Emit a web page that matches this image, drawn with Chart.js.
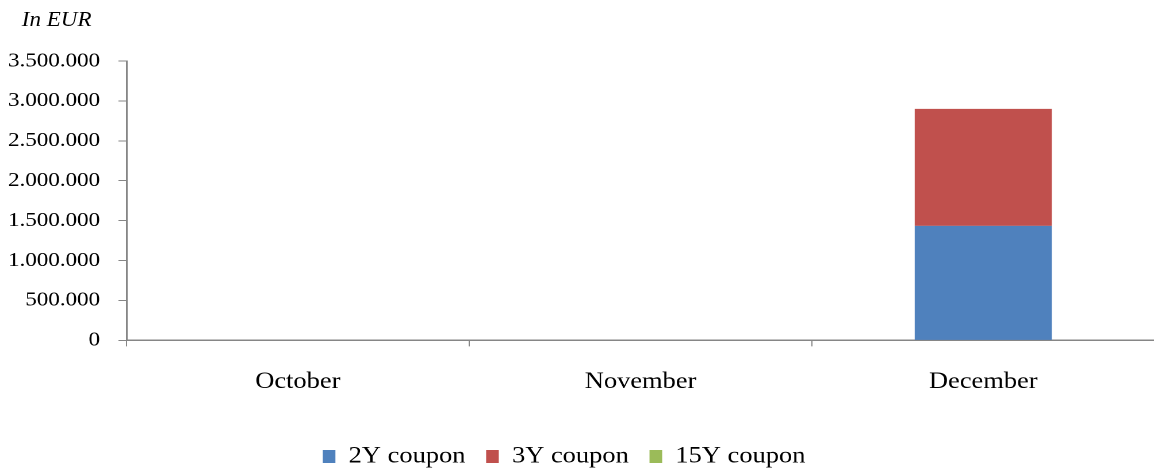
<!DOCTYPE html>
<html lang="en">
  <head>
    <meta charset="UTF-8" />
    <title>Coupon issuance</title>
    <script src="https://cdn.jsdelivr.net/npm/chart.js@4.4.0/dist/chart.umd.min.js"></script>
    <style>
      html, body { margin: 0; padding: 0; background: #fff; overflow: hidden; }
      /* the original picture is a bit wider than tall, so draw narrow and stretch */
      #wrap { position: relative; width: 1004px; height: 469px; transform: scaleX(1.15); transform-origin: 0 0; }
      #unit { position: absolute; left: 19px; top: 9px; font: italic 20px/20px "Liberation Serif", serif; color: #000; }
    </style>
  </head>
  <body>
    <div id="wrap">
      <div id="unit">In EUR</div>
      <canvas id="myChart" width="1004" height="469"></canvas>
    </div>
    <script>
      const months = ['October', 'November', 'December'];
      const coupon2Y = [0, 0, 1435000];
      const coupon3Y = [0, 0, 1465000];
      const coupon15Y = [0, 0, 0];
      const yTicks = [0, 500000, 1000000, 1500000, 2000000, 2500000, 3000000, 3500000];

      function dots(v) {
        return String(v).replace(/\B(?=(\d{3})+(?!\d))/g, '.');
      }

      // legend sits a little left of centre in the original
      const nudgeLegend = {
        id: 'nudgeLegend',
        afterLayout(chart) {
          if (chart.legend) { chart.legend.left -= 7; chart.legend.right -= 7; }
        }
      };

      const axisGrey = '#868686';
      const ctx = document.getElementById('myChart').getContext('2d');
      const myChart = new Chart(ctx, {
        type: 'bar',
        data: {
          labels: months,
          datasets: [
            { label: '2Y coupon', data: coupon2Y, backgroundColor: '#4F81BD' },
            { label: '3Y coupon', data: coupon3Y, backgroundColor: '#C0504D' },
            { label: '15Y coupon', data: coupon15Y, backgroundColor: '#9BBB59' }
          ]
        },
        plugins: [nudgeLegend],
        options: {
          responsive: false,
          animation: false,
          devicePixelRatio: 2,
          layout: { padding: { top: 61, left: -9, right: 0, bottom: -9 } },
          datasets: { bar: { barPercentage: 0.4, categoryPercentage: 1.0 } },
          plugins: {
            tooltip: { enabled: false },
            legend: {
              position: 'bottom',
              labels: {
                boxWidth: 11,
                boxHeight: 13,
                padding: 18,
                color: '#000',
                font: { family: 'Liberation Serif', size: 23 }
              }
            }
          },
          scales: {
            x: {
              stacked: true,
              border: { display: true, color: axisGrey, width: 1.5 },
              grid: { offset: true, drawOnChartArea: false, drawTicks: true, tickLength: 6, color: axisGrey },
              ticks: { color: '#000', padding: 22, font: { family: 'Liberation Serif', size: 23 } },
              // leave room between month names and legend
              afterFit: (s) => { s.height += 9; }
            },
            y: {
              stacked: true,
              min: 0,
              max: yTicks[yTicks.length - 1],
              afterBuildTicks: (axis) => { axis.ticks = yTicks.map(v => ({ value: v })); },
              border: { display: true, color: axisGrey, width: 1.5 },
              grid: { drawOnChartArea: false, drawTicks: true, tickLength: 7, color: axisGrey },
              ticks: {
                color: '#000',
                padding: 16,
                font: { family: 'Liberation Serif', size: 20 },
                callback: (v) => dots(v)
              }
            }
          }
        }
      });
    </script>
  </body>
</html>
